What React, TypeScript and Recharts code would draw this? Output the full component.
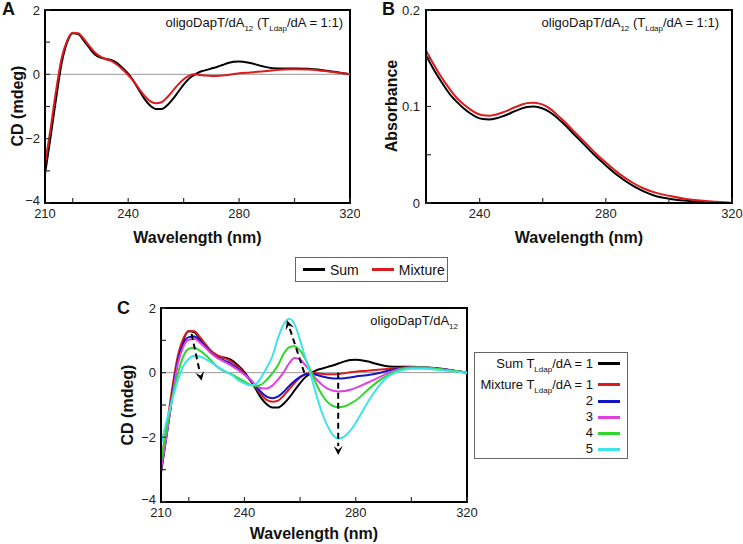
import { LineChart, Line, XAxis, YAxis, ReferenceLine, ReferenceArea } from "recharts";

// CD spectra (panels A and C)
const WL = [
  210, 212, 214, 216, 218, 220, 222, 224, 226, 228, 230, 232, 234, 236, 238, 240,
  242, 244, 246, 248, 250, 252, 254, 256, 258, 260, 262, 264, 266, 268, 270, 272,
  274, 276, 278, 280, 284, 288, 292, 296, 300, 305, 310, 315, 320,
];
const SUM_CD = [
  -3.1, -1.95, -0.75, 0.35, 1.0, 1.28, 1.25, 1.05, 0.82, 0.62, 0.52, 0.48, 0.44, 0.35, 0.2, 0.02,
  -0.22, -0.5, -0.78, -0.98, -1.08, -1.08, -0.97, -0.78, -0.55, -0.32, -0.13, -0.01, 0.08, 0.13, 0.18, 0.23,
  0.29, 0.35, 0.39, 0.4, 0.35, 0.26, 0.19, 0.18, 0.18, 0.17, 0.13, 0.07, 0,
];
const MIX1_CD = [
  -2.8, -1.7, -0.5, 0.5, 1.05, 1.29, 1.28, 1.1, 0.88, 0.68, 0.55, 0.47, 0.41, 0.3, 0.15, -0.02,
  -0.22, -0.46, -0.68, -0.84, -0.9, -0.87, -0.72, -0.52, -0.32, -0.15, -0.04, 0.0, -0.02, -0.04, -0.05, -0.05,
  -0.04, -0.02, 0.01, 0.03, 0.06, 0.09, 0.12, 0.15, 0.16, 0.15, 0.11, 0.06, 0,
];
const MIX2_CD = [
  -3.0, -1.9, -0.7, 0.35, 0.9, 1.1, 1.12, 0.98, 0.8, 0.62, 0.48, 0.4, 0.33, 0.22, 0.1, -0.04,
  -0.22, -0.42, -0.6, -0.74, -0.79, -0.74, -0.6, -0.42, -0.26, -0.13, -0.05, -0.03, -0.07, -0.12, -0.16, -0.18,
  -0.18, -0.17, -0.15, -0.12, -0.08, -0.02, 0.07, 0.14, 0.16, 0.15, 0.11, 0.06, 0,
];
const MIX3_CD = [
  -3.0, -1.95, -0.8, 0.25, 0.8, 1.02, 1.04, 0.93, 0.77, 0.6, 0.47, 0.37, 0.28, 0.18, 0.07, -0.06,
  -0.2, -0.38, -0.48, -0.49, -0.4, -0.22, 0.0, 0.28, 0.45, 0.4, 0.22, 0.0, -0.22, -0.38, -0.5, -0.56,
  -0.58, -0.57, -0.53, -0.47, -0.32, -0.16, 0.0, 0.12, 0.16, 0.16, 0.11, 0.06, 0,
];
const MIX4_CD = [
  -2.7, -1.75, -0.8, -0.05, 0.5, 0.74, 0.77, 0.68, 0.55, 0.38, 0.2, 0.08, 0.0, -0.08, -0.18, -0.28,
  -0.37, -0.41, -0.37, -0.22, -0.02, 0.22, 0.57, 0.78, 0.82, 0.68, 0.4, 0.02, -0.38, -0.7, -0.92, -1.04,
  -1.07, -1.04, -0.96, -0.86, -0.56, -0.27, -0.05, 0.1, 0.16, 0.16, 0.11, 0.06, 0,
];
const MIX5_CD = [
  -2.2, -1.5, -0.85, -0.25, 0.2, 0.43, 0.52, 0.5, 0.42, 0.32, 0.2, 0.1, 0.0, -0.1, -0.25, -0.33,
  -0.39, -0.36, -0.15, 0.15, 0.5, 1.05, 1.48, 1.67, 1.5, 1.0, 0.43, -0.12, -0.74, -1.27, -1.67, -1.95,
  -2.04, -1.97, -1.8, -1.55, -0.96, -0.45, -0.1, 0.06, 0.12, 0.12, 0.08, 0.04, 0,
];

// UV absorbance (panel B)
const ABS_WL = [
  223, 225, 227, 229, 231, 233, 235, 237, 239, 241, 243, 245, 247, 249, 251, 253, 255, 257,
  259, 261, 263, 265, 267, 270, 273, 276, 280, 284, 288, 292, 296, 300, 305, 310, 315, 320,
];
const ABS_SUM = [
  0.153, 0.141, 0.13, 0.12, 0.111, 0.104, 0.098, 0.093, 0.089, 0.087, 0.0865, 0.0875, 0.0895, 0.092, 0.095, 0.0975, 0.0995, 0.1,
  0.099, 0.0965, 0.0925, 0.087, 0.081, 0.071, 0.061, 0.051, 0.039, 0.028, 0.019, 0.012, 0.007, 0.0045, 0.0025, 0.0012, 0.0005, 0,
];
const ABS_MIX = [
  0.158, 0.146, 0.135, 0.125, 0.116, 0.108, 0.102, 0.097, 0.093, 0.091, 0.0905, 0.0915, 0.0935, 0.096, 0.099, 0.1015, 0.1035, 0.104,
  0.103, 0.1005, 0.096, 0.09, 0.084, 0.074, 0.064, 0.054, 0.042, 0.031, 0.022, 0.015, 0.0105, 0.0075, 0.0045, 0.0025, 0.0012, 0,
];

const CD_X_TICKS = [210, 220, 240, 260, 280, 300, 320];
const CD_X_LABELS = [210, 240, 280, 320];
const CD_Y_TICKS = [-4, -3, -2, -1, 0, 1, 2];
const CD_Y_LABELS = [-4, -2, 0, 2];
const ABS_X_TICKS = [240, 260, 280, 300, 320];
const ABS_X_LABELS = [240, 280, 320];
const ABS_Y_TICKS = [0, 0.05, 0.1, 0.15, 0.2];
const ABS_Y_LABELS = [0, 0.1, 0.2];

const C_SERIES = [
  { key: "sum", color: "#000000" },
  { key: "m1", color: "#dc1c1c" },
  { key: "m2", color: "#1414c8" },
  { key: "m3", color: "#e040e0" },
  { key: "m4", color: "#2ed62e" },
  { key: "m5", color: "#3ee2ea" },
];
const C_LEGEND = ["2", "3", "4", "5"];

const cdRows = WL.map((wl, i) => ({
  wl,
  sum: SUM_CD[i],
  m1: MIX1_CD[i],
  m2: MIX2_CD[i],
  m3: MIX3_CD[i],
  m4: MIX4_CD[i],
  m5: MIX5_CD[i],
}));
const absRows = ABS_WL.map((wl, i) => ({ wl, sum: ABS_SUM[i], mix: ABS_MIX[i] }));

const FONT = "'Liberation Sans', Arial, sans-serif";

const fmt = (v: number) => String(v).replace("-", "\u2212");

const xTick = (labels: number[]) => (p: any) => {
  const v = p.payload.value;
  if (!labels.includes(v)) return <g />;
  return (
    <text x={p.x} y={p.y} dy="0.71em" textAnchor="middle" fontSize={13} fill="#222" fontFamily={FONT}>
      {fmt(v)}
    </text>
  );
};
const yTick = (labels: number[]) => (p: any) => {
  const v = p.payload.value;
  if (!labels.includes(v)) return <g />;
  // the bottom label sits a little higher, clear of the first x label
  const lift = v === -4 ? -3 : 0;
  return (
    <text x={p.x} y={p.y + lift} dy="0.36em" textAnchor="end" fontSize={13} fill="#222" fontFamily={FONT}>
      {fmt(v)}
    </text>
  );
};

// dashed arrow drawn through the reference line's own endpoints
const arrow = (p: any) => {
  const { x1, y1, x2, y2 } = p;
  const a = Math.atan2(y2 - y1, x2 - x1);
  const L = 9;
  const W = 4.5;
  const bx = x2 - L * Math.cos(a);
  const by = y2 - L * Math.sin(a);
  const px = -Math.sin(a) * W;
  const py = Math.cos(a) * W;
  const nx = x2 - L * 0.6 * Math.cos(a);
  const ny = y2 - L * 0.6 * Math.sin(a);
  return (
    <g>
      <line x1={x1} y1={y1} x2={bx} y2={by} stroke="#000" strokeWidth={2} strokeDasharray="6 4" />
      <path d={`M${x2},${y2} L${bx + px},${by + py} L${nx},${ny} L${bx - px},${by - py} Z`} fill="#000" />
    </g>
  );
};

const axisLine = { stroke: "#000", strokeWidth: 2 };
const tickLine = { stroke: "#333", strokeWidth: 1.2 };
const xTitle = (offset: number) => ({
  value: "Wavelength (nm)",
  position: "insideBottom" as const,
  offset,
  style: { fontSize: 16, fontWeight: "bold", fill: "#111", fontFamily: FONT },
});

const Sub = ({ children }: { children: string }) => (
  <sub style={{ fontSize: 8, verticalAlign: "baseline", position: "relative", top: 4 }}>{children}</sub>
);

const abs = (left: number, top: number, extra: any = {}) => ({ position: "absolute" as const, left, top, ...extra });

const YTitle = ({ x, y, text }: { x: number; y: number; text: string }) => (
  <div
    style={{
      position: "absolute",
      left: x,
      top: y,
      transform: "translate(-50%, -50%) rotate(-90deg)",
      fontSize: 16,
      fontWeight: "bold",
      whiteSpace: "nowrap",
      color: "#111",
    }}
  >
    {text}
  </div>
);

const Swatch = ({ color }: { color: string }) => (
  <span style={{ display: "inline-block", width: 22, height: 3, background: color }} />
);

const letter = { fontSize: 18, fontWeight: "bold", lineHeight: "18px" };

export default function App() {
  return (
    <div
      style={{
        position: "absolute",
        left: 0,
        top: 0,
        width: 743,
        height: 544,
        background: "#fff",
        fontFamily: FONT,
        color: "#111",
        overflow: "hidden",
      }}
    >
      {/* A */}
      <div style={abs(0, 0)}>
        <LineChart width={360} height={250} data={cdRows} margin={{ top: 10, right: 10, bottom: 7, left: 0 }}>
          <ReferenceArea x1={210} x2={320} y1={-4} y2={2} fill="none" stroke="#000" strokeWidth={2} />
          <ReferenceLine y={0} stroke="#999" strokeWidth={1} />
          <XAxis
            dataKey="wl"
            type="number"
            domain={[210, 320]}
            ticks={CD_X_TICKS}
            interval={0}
            height={40}
            axisLine={axisLine}
            tickLine={tickLine}
            tickSize={-5}
            tickMargin={11}
            tick={xTick(CD_X_LABELS)}
            label={xTitle(0)}
          />
          <YAxis
            type="number"
            domain={[-4, 2]}
            ticks={CD_Y_TICKS}
            interval={0}
            width={45}
            axisLine={axisLine}
            tickLine={tickLine}
            tickSize={-5}
            tickMargin={10}
            tick={yTick(CD_Y_LABELS)}
          />
          <Line dataKey="sum" type="monotone" stroke="#000" strokeWidth={2} dot={false} isAnimationActive={false} />
          <Line dataKey="m1" type="monotone" stroke="#dc1c1c" strokeWidth={2} dot={false} isAnimationActive={false} />
        </LineChart>
      </div>

      {/* B */}
      <div style={abs(370, 0)}>
        <LineChart width={373} height={250} data={absRows} margin={{ top: 10, right: 11, bottom: 7, left: 0 }}>
          <ReferenceArea x1={223} x2={320} y1={0} y2={0.2} fill="none" stroke="#000" strokeWidth={2} />
          <XAxis
            dataKey="wl"
            type="number"
            domain={[223, 320]}
            ticks={ABS_X_TICKS}
            interval={0}
            height={40}
            axisLine={axisLine}
            tickLine={tickLine}
            tickSize={-5}
            tickMargin={11}
            tick={xTick(ABS_X_LABELS)}
            label={xTitle(0)}
          />
          <YAxis
            type="number"
            domain={[0, 0.2]}
            ticks={ABS_Y_TICKS}
            interval={0}
            width={56}
            axisLine={axisLine}
            tickLine={tickLine}
            tickSize={-5}
            tickMargin={11}
            tick={yTick(ABS_Y_LABELS)}
          />
          <Line dataKey="sum" type="monotone" stroke="#000" strokeWidth={2} dot={false} isAnimationActive={false} />
          <Line dataKey="mix" type="monotone" stroke="#dc1c1c" strokeWidth={2} dot={false} isAnimationActive={false} />
        </LineChart>
      </div>

      {/* C */}
      <div style={abs(116, 298)}>
        <LineChart width={372} height={246} data={cdRows} margin={{ top: 10, right: 21, bottom: 2, left: 0 }}>
          <ReferenceArea x1={210} x2={320} y1={-4} y2={2} fill="none" stroke="#000" strokeWidth={2} />
          <ReferenceLine y={0} stroke="#999" strokeWidth={1} />
          <XAxis
            dataKey="wl"
            type="number"
            domain={[210, 320]}
            ticks={CD_X_TICKS}
            interval={0}
            height={40}
            axisLine={axisLine}
            tickLine={tickLine}
            tickSize={-5}
            tickMargin={11}
            tick={xTick(CD_X_LABELS)}
            label={xTitle(3)}
          />
          <YAxis
            type="number"
            domain={[-4, 2]}
            ticks={CD_Y_TICKS}
            interval={0}
            width={45}
            axisLine={axisLine}
            tickLine={tickLine}
            tickSize={-5}
            tickMargin={10}
            tick={yTick(CD_Y_LABELS)}
          />
          {C_SERIES.map((s) => (
            <Line
              key={s.key}
              dataKey={s.key}
              type="monotone"
              stroke={s.color}
              strokeWidth={2}
              dot={false}
              isAnimationActive={false}
            />
          ))}
          <ReferenceLine segment={[{ x: 221, y: 1.2 }, { x: 224.6, y: -0.25 }]} shape={arrow} />
          <ReferenceLine segment={[{ x: 261.5, y: 0 }, { x: 255.3, y: 1.62 }]} shape={arrow} />
          <ReferenceLine segment={[{ x: 273.7, y: 0 }, { x: 273.7, y: -2.55 }]} shape={arrow} />
        </LineChart>
      </div>

      {/* panel letters */}
      <div style={abs(2, 0, letter)}>A</div>
      <div style={abs(382, 0, letter)}>B</div>
      <div style={abs(117, 299, letter)}>C</div>

      {/* axis titles */}
      <YTitle x={18} y={106} text="CD (mdeg)" />
      <YTitle x={392} y={106} text="Absorbance" />
      <YTitle x={128} y={405} text="CD (mdeg)" />

      {/* annotations */}
      <div style={{ position: "absolute", right: 400, top: 15, fontSize: 13, whiteSpace: "nowrap" }}>
        oligoDapT/dA<Sub>12</Sub> (T<Sub>Ldap</Sub>/dA = 1:1)
      </div>
      <div style={{ position: "absolute", right: 24, top: 15, fontSize: 13, whiteSpace: "nowrap" }}>
        oligoDapT/dA<Sub>12</Sub> (T<Sub>Ldap</Sub>/dA = 1:1)
      </div>
      <div style={{ position: "absolute", right: 285, top: 313, fontSize: 13, whiteSpace: "nowrap" }}>
        oligoDapT/dA<Sub>12</Sub>
      </div>

      {/* legend A/B */}
      <div
        style={{
          position: "absolute",
          left: 295,
          top: 257,
          width: 153,
          height: 25,
          boxSizing: "border-box",
          border: "1px solid #666",
          display: "flex",
          alignItems: "center",
          fontSize: 14,
        }}
      >
        <span style={{ marginLeft: 7 }} />
        <Swatch color="#000" />
        <span style={{ marginLeft: 5 }}>Sum</span>
        <span style={{ marginLeft: 13 }} />
        <Swatch color="#dc1c1c" />
        <span style={{ marginLeft: 5 }}>Mixture</span>
      </div>

      {/* legend C */}
      <div
        style={{
          position: "absolute",
          left: 474,
          top: 352,
          width: 154,
          height: 107,
          boxSizing: "border-box",
          border: "1px solid #666",
          fontSize: 13,
        }}
      >
        <div style={{ position: "absolute", right: 7, top: 3, display: "flex", alignItems: "center", whiteSpace: "nowrap" }}>
          <span>
            Sum T<Sub>Ldap</Sub>/dA = 1
          </span>
          <span style={{ marginLeft: 5 }} />
          <Swatch color={C_SERIES[0].color} />
        </div>
        <div style={{ position: "absolute", right: 7, top: 24, display: "flex", alignItems: "center", whiteSpace: "nowrap" }}>
          <span>
            Mixture T<Sub>Ldap</Sub>/dA = 1
          </span>
          <span style={{ marginLeft: 5 }} />
          <Swatch color={C_SERIES[1].color} />
        </div>
        {C_LEGEND.map((lab, i) => (
          <div
            key={lab}
            style={{
              position: "absolute",
              right: 7,
              top: 40 + i * 16,
              display: "flex",
              alignItems: "center",
              whiteSpace: "nowrap",
              lineHeight: "16px",
            }}
          >
            <span>{lab}</span>
            <span style={{ marginLeft: 5 }} />
            <Swatch color={C_SERIES[i + 2].color} />
          </div>
        ))}
      </div>
    </div>
  );
}
